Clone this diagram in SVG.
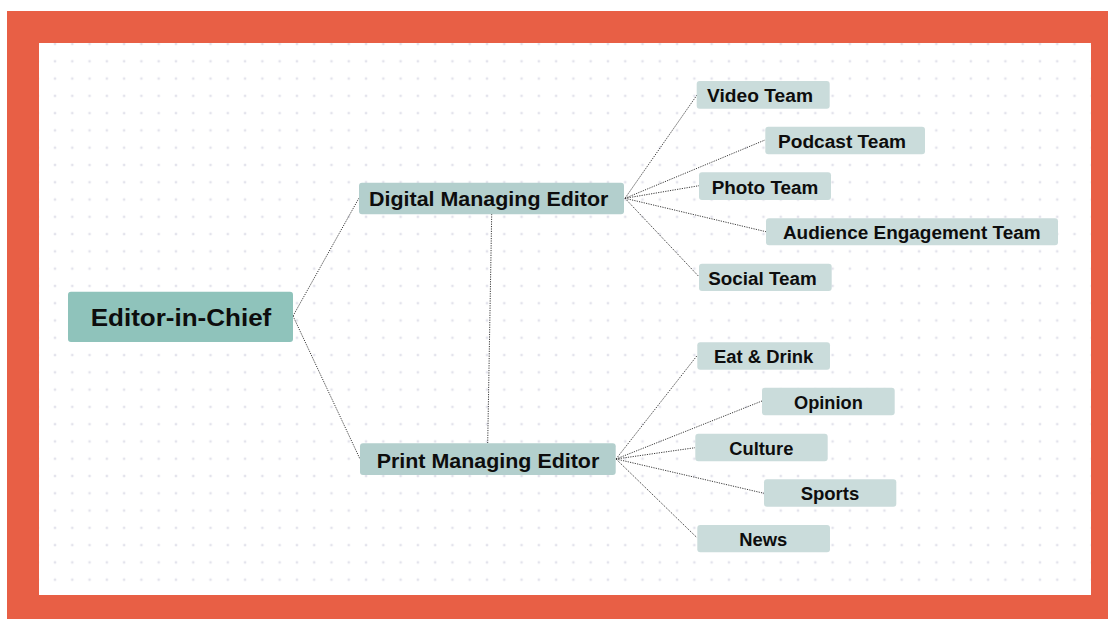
<svg xmlns="http://www.w3.org/2000/svg" width="1108" height="619" viewBox="0 0 1108 619">
  <defs>
    <pattern id="dots" patternUnits="userSpaceOnUse" x="46.36" y="35.36" width="17.28" height="17.28">
      <rect x="7.44" y="7.44" width="2.4" height="2.4" fill="#e3e3ec"/>
    </pattern>
    <style>
      .root { fill: #8fc3bb; }
      .mid { fill: #b3cfcd; }
      .leaf { fill: #cadcdb; }
      text { font-family: "Liberation Sans", Arial, sans-serif; font-weight: bold; fill: #0d0d0d; text-anchor: middle; }
      .t-root { font-size: 24px; }
      .t-mid { font-size: 20.5px; }
      .t-leaf { font-size: 17.6px; }
      .link { fill: none; stroke: #3a3a3a; stroke-width: 1; stroke-dasharray: 1.2 1.2; }
    </style>
  </defs>

  <!-- frame and dotted canvas -->
  <rect x="0" y="0" width="1108" height="619" fill="#ffffff"/>
  <rect x="7" y="11" width="1101" height="608" fill="#e85f45"/>
  <rect x="39" y="43" width="1052" height="552" fill="#ffffff"/>
  <rect x="39" y="43" width="1052" height="552" fill="url(#dots)"/>

  <!-- connectors -->
  <g id="connectors">
    <line class="link" x1="293" y1="316" x2="359" y2="198"/>
    <line class="link" x1="293" y1="316" x2="360" y2="459"/>
    <line class="link" x1="491.7" y1="214" x2="487.7" y2="443"/>
    <line class="link" x1="625" y1="198.3" x2="697" y2="95"/>
    <line class="link" x1="625" y1="198.3" x2="765" y2="140"/>
    <line class="link" x1="625" y1="198.3" x2="699" y2="185.7"/>
    <line class="link" x1="625" y1="198.3" x2="766" y2="231.7"/>
    <line class="link" x1="625" y1="198.3" x2="699" y2="276.7"/>
    <line class="link" x1="616" y1="459" x2="697" y2="355.7"/>
    <line class="link" x1="616" y1="459" x2="762" y2="401"/>
    <line class="link" x1="616" y1="459" x2="695" y2="447.7"/>
    <line class="link" x1="616" y1="459" x2="764" y2="493.3"/>
    <line class="link" x1="616" y1="459" x2="697" y2="537.7"/>
  </g>

  <g id="editor-in-chief">
    <rect class="root" x="68" y="291.7" width="225" height="50.3" rx="3"/>
    <text class="t-root" x="181" y="326" textLength="180.6" lengthAdjust="spacingAndGlyphs">Editor-in-Chief</text>
  </g>

  <g id="digital-managing-editor">
    <rect class="mid" x="359" y="182.7" width="265" height="31.6" rx="3"/>
    <text class="t-mid" x="488.7" y="206.3" textLength="239.3" lengthAdjust="spacingAndGlyphs">Digital Managing Editor</text>
  </g>

  <g id="print-managing-editor">
    <rect class="mid" x="360" y="443.3" width="255.7" height="31.7" rx="3"/>
    <text class="t-mid" x="488" y="467.5" textLength="222.6" lengthAdjust="spacingAndGlyphs">Print Managing Editor</text>
  </g>

  <g id="video-team">
    <rect class="leaf" x="696.7" y="81" width="133" height="27.7" rx="3"/>
    <text class="t-leaf" x="760" y="101.7" textLength="106" lengthAdjust="spacingAndGlyphs">Video Team</text>
  </g>

  <g id="podcast-team">
    <rect class="leaf" x="765.3" y="126.7" width="159.7" height="27.6" rx="3"/>
    <text class="t-leaf" x="842" y="147.7" textLength="128" lengthAdjust="spacingAndGlyphs">Podcast Team</text>
  </g>

  <g id="photo-team">
    <rect class="leaf" x="699" y="172.3" width="132" height="27.7" rx="3"/>
    <text class="t-leaf" x="765" y="193.5" textLength="106.6" lengthAdjust="spacingAndGlyphs">Photo Team</text>
  </g>

  <g id="audience-engagement-team">
    <rect class="leaf" x="766" y="218.3" width="292" height="27" rx="3"/>
    <text class="t-leaf" x="911.8" y="239" textLength="257.7" lengthAdjust="spacingAndGlyphs">Audience Engagement Team</text>
  </g>

  <g id="social-team">
    <rect class="leaf" x="699" y="263.7" width="132.7" height="27.3" rx="3"/>
    <text class="t-leaf" x="762.5" y="284.5" textLength="108.4" lengthAdjust="spacingAndGlyphs">Social Team</text>
  </g>

  <g id="eat-drink">
    <rect class="leaf" x="697.3" y="342.3" width="132.7" height="27.4" rx="3"/>
    <text class="t-leaf" x="763.7" y="362.7" textLength="99.3" lengthAdjust="spacingAndGlyphs">Eat &amp; Drink</text>
  </g>

  <g id="opinion">
    <rect class="leaf" x="762" y="387.7" width="132.7" height="27.6" rx="3"/>
    <text class="t-leaf" x="828.4" y="408.5" textLength="68.7" lengthAdjust="spacingAndGlyphs">Opinion</text>
  </g>

  <g id="culture">
    <rect class="leaf" x="695.3" y="433.7" width="132.4" height="27.6" rx="3"/>
    <text class="t-leaf" x="761.3" y="454.5" textLength="64" lengthAdjust="spacingAndGlyphs">Culture</text>
  </g>

  <g id="sports">
    <rect class="leaf" x="764" y="479.3" width="132.3" height="27.4" rx="3"/>
    <text class="t-leaf" x="830" y="500.2" textLength="58.6" lengthAdjust="spacingAndGlyphs">Sports</text>
  </g>

  <g id="news">
    <rect class="leaf" x="697.3" y="525" width="132.7" height="27.3" rx="3"/>
    <text class="t-leaf" x="763.3" y="545.9" textLength="48" lengthAdjust="spacingAndGlyphs">News</text>
  </g>
</svg>
